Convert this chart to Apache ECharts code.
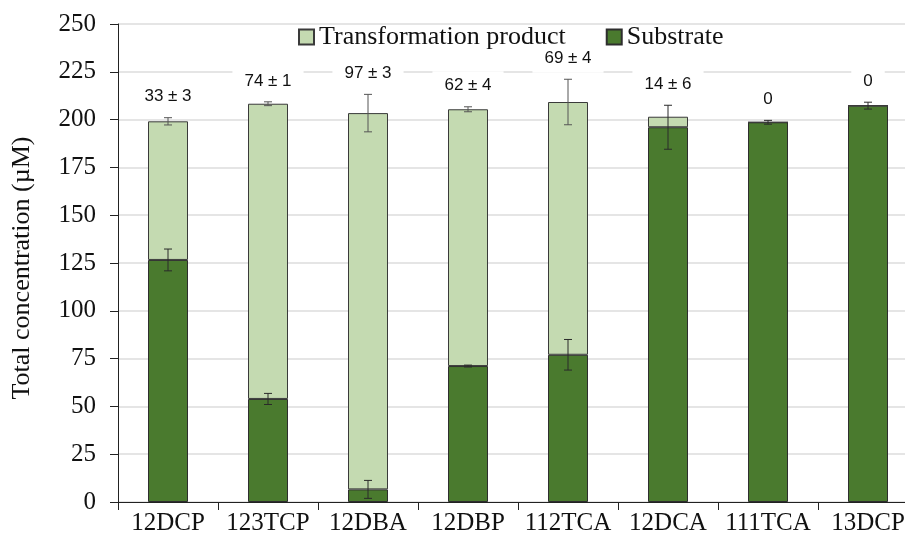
<!DOCTYPE html>
<html>
<head>
<meta charset="utf-8">
<script src="https://cdn.jsdelivr.net/npm/echarts@6/dist/echarts.min.js"></script>
<style>
  html, body { margin: 0; padding: 0; background: #fff; overflow: hidden; }
  /* plot runs slightly past the right edge of the window */
  #chart { width: 918px; height: 542px; }
</style>
</head>
<body>
<div id="chart"></div>
<script>
// Compounds tested
var categories = ['12DCP', '123TCP', '12DBA', '12DBP', '112TCA', '12DCA', '111TCA', '13DCP'];
// Remaining substrate (µM) and its standard deviation
var substrate = [126.6, 53.9, 6.6, 71.1, 77.0, 196.0, 198.6, 207.3];
var substrateErr = [5.7, 2.9, 4.7, 0.5, 8.0, 11.5, 1.0, 1.8];
// Transformation product (µM), stacked on the substrate
var product = [72.5, 154.4, 196.8, 134.3, 132.2, 5.5, 0, 0];
// Standard deviation of the total concentration
var totalErr = [1.9, 1.0, 9.8, 1.3, 11.9, 0, 0, 0];
// Transformation (%) annotations above each bar
var transformLabels = ['33 ± 3', '74 ± 1', '97 ± 3', '62 ± 4', '69 ± 4', '14 ± 6', '0', '0'];
// Value axis ticks
var yTicks = { min: 0, max: 250, interval: 25 };

var totals = substrate.map(function (s, i) { return s + product[i]; });

var subErrData = substrate.map(function (s, i) { return [i, s, substrateErr[i]]; });
var totErrData = totals
  .map(function (t, i) { return [i, t, totalErr[i]]; })
  .filter(function (d) { return d[2] > 0; });
var labelData = totals.map(function (t, i) {
  return [i, Math.max(t + totalErr[i], substrate[i] + substrateErr[i]), transformLabels[i]];
});

function errorBar(color) {
  return function (params, api) {
    var x = api.value(0);
    var c = api.value(1);
    var e = api.value(2);
    var hi = api.coord([x, c + e]);
    var lo = api.coord([x, c - e]);
    var cap = 4;
    var st = { stroke: color, lineWidth: 1 };
    return {
      type: 'group',
      children: [
        { type: 'line', shape: { x1: hi[0], y1: hi[1], x2: lo[0], y2: lo[1] }, style: st },
        { type: 'line', shape: { x1: hi[0] - cap, y1: hi[1], x2: hi[0] + cap, y2: hi[1] }, style: st },
        { type: 'line', shape: { x1: lo[0] - cap, y1: lo[1], x2: lo[0] + cap, y2: lo[1] }, style: st }
      ]
    };
  };
}

var serif = '"Liberation Serif", "Times New Roman", serif';
var sans = '"Liberation Sans", Arial, sans-serif';

var chart = echarts.init(document.getElementById('chart'), null, { renderer: 'canvas' });
chart.setOption({
  animation: false,
  backgroundColor: '#fff',
  grid: { left: 118, top: 24, right: 0, bottom: 40, containLabel: false },
  legend: {
    data: ['Transformation product', 'Substrate'],
    left: 293,
    top: 19,
    icon: 'rect',
    itemWidth: 15,
    itemHeight: 15,
    itemGap: 40,
    textStyle: { fontFamily: serif, fontSize: 26, color: '#111' }
  },
  xAxis: {
    type: 'category',
    data: categories,
    boundaryGap: true,
    axisLine: { lineStyle: { color: '#222', width: 1 } },
    axisTick: { show: true, length: 8, lineStyle: { color: '#222' } },
    axisLabel: { fontFamily: serif, fontSize: 25, color: '#111', margin: 9, interval: 0 },
    splitLine: { show: false }
  },
  yAxis: {
    type: 'value',
    min: yTicks.min,
    max: yTicks.max,
    interval: yTicks.interval,
    axisLine: { show: true, lineStyle: { color: '#222', width: 1 } },
    axisTick: { show: true, length: 8, lineStyle: { color: '#222' } },
    axisLabel: { fontFamily: serif, fontSize: 25, color: '#111', margin: 22 },
    splitLine: { lineStyle: { color: '#dcdcdc', width: 1.5 } }
  },
  graphic: [{
    type: 'text',
    x: 22,
    y: 268,
    rotation: Math.PI / 2,
    style: {
      text: 'Total concentration (µM)',
      font: '26px ' + serif,
      fill: '#111',
      align: 'center',
      verticalAlign: 'middle'
    }
  }],
  series: [
    {
      name: 'Substrate',
      type: 'bar',
      stack: 'total',
      barWidth: 40,
      data: substrate,
      itemStyle: { color: '#4a7a2e', borderColor: '#2e2e2e', borderWidth: 1 }
    },
    {
      name: 'Transformation product',
      type: 'bar',
      stack: 'total',
      barWidth: 40,
      data: product,
      itemStyle: { color: '#c4dab1', borderColor: '#3a3a3a', borderWidth: 1 }
    },
    {
      name: 'substrateError',
      type: 'custom',
      renderItem: errorBar('#2a2a2a'),
      data: subErrData,
      z: 5,
      silent: true
    },
    {
      name: 'totalError',
      type: 'custom',
      renderItem: errorBar('#555'),
      data: totErrData,
      z: 5,
      silent: true
    },
    {
      name: 'transformation',
      type: 'custom',
      data: labelData,
      z: 6,
      silent: true,
      renderItem: function (params, api) {
        var p = api.coord([api.value(0), api.value(1)]);
        return {
          type: 'text',
          x: p[0],
          y: p[1] - 21,
          style: {
            text: labelData[params.dataIndex][2],
            font: '17px ' + sans,
            fill: '#111',
            align: 'center',
            verticalAlign: 'middle',
            backgroundColor: '#fff',
            padding: [6, 12]
          }
        };
      }
    }
  ]
});
</script>
</body>
</html>
